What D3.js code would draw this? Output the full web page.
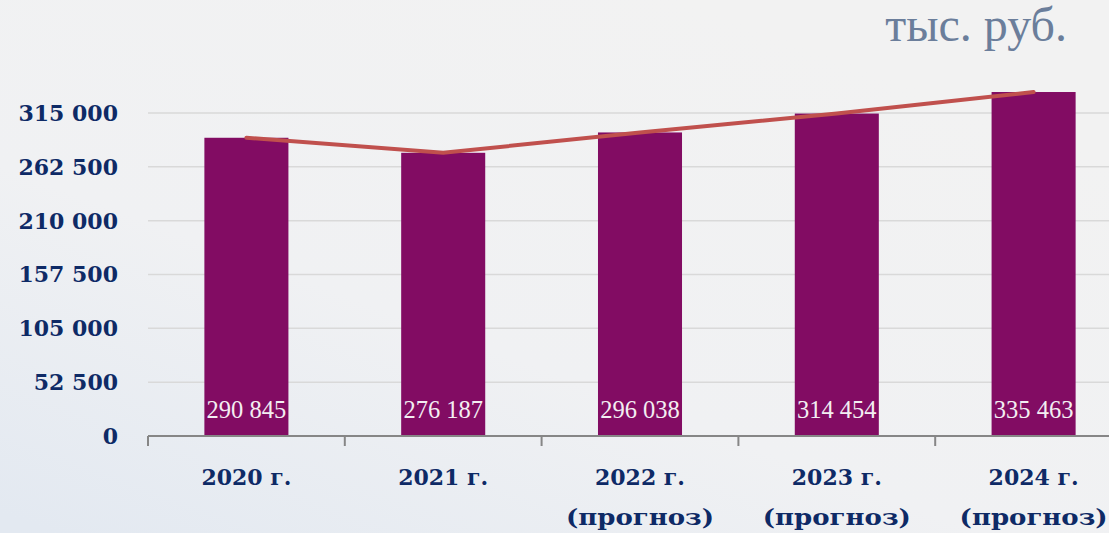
<!DOCTYPE html>
<head>
  <meta charset="utf-8">
  <script src="https://d3js.org/d3.v7.min.js"></script>
  <style>
    body { margin:0;position:fixed;top:0;right:0;bottom:0;left:0; }
  </style>
</head>

<body>
  <script>

    var width = 1109,
        height = 533;

    var years = ["2020 г.", "2021 г.", "2022 г.", "2023 г.", "2024 г."];
    var notes = ["", "", "(прогноз)", "(прогноз)", "(прогноз)"];
    var values = [290845, 276187, 296038, 314454, 335463];
    var yTicks = [0, 52500, 105000, 157500, 210000, 262500, 315000];

    var svg = d3.select("body").append("svg")
      .attr("width", width)
      .attr("height", height);

    var defs = svg.append("defs");
    var grad = defs.append("linearGradient").attr("id", "bg")
      .attr("x1", "0.75").attr("y1", "0.1").attr("x2", "0.05").attr("y2", "1");
    grad.append("stop").attr("offset", "0").attr("stop-color", "#f2f2f2");
    grad.append("stop").attr("offset", "0.55").attr("stop-color", "#f0f1f3");
    grad.append("stop").attr("offset", "1").attr("stop-color", "#e3e9f1");

    svg.append("rect").attr("width", width).attr("height", height).attr("fill", "url(#bg)");

    var x = d3.scaleBand()
        .domain(years)
        .range([148, 148 + 5 * 196.8])
        .paddingInner(0.573)
        .paddingOuter(0.2865);

    var y = d3.scaleLinear()
        .domain([0, 315000])
        .range([436, 113]);

    var fmt = function(d) { return d3.format(",")(d).replace(/,/g, " "); };

    // gridlines
    svg.selectAll("line.grid").data(yTicks.slice(1)).enter()
      .append("line")
      .attr("class", "grid")
      .attr("x1", 148).attr("x2", width)
      .attr("y1", function(d) { return y(d); })
      .attr("y2", function(d) { return y(d); })
      .attr("stroke", "#d9d9d9")
      .attr("stroke-width", 1.5);

    // y labels
    svg.selectAll("text.ylab").data(yTicks).enter()
      .append("text")
      .attr("class", "ylab")
      .attr("x", 118)
      .attr("y", function(d) { return y(d); })
      .attr("dy", "0.36em")
      .attr("text-anchor", "end")
      .attr("font-family", "DejaVu Serif")
      .attr("font-weight", "bold")
      .attr("font-size", 22)
      .attr("fill", "#0e2a66")
      .text(fmt);

    // bars
    svg.selectAll("rect.bar").data(values).enter()
      .append("rect")
      .attr("class", "bar")
      .attr("x", function(d, i) { return x(years[i]); })
      .attr("y", function(d) { return y(d); })
      .attr("width", x.bandwidth())
      .attr("height", function(d) { return y(0) - y(d); })
      .attr("fill", "#820c63");

    // bar value labels
    svg.selectAll("text.val").data(values).enter()
      .append("text")
      .attr("class", "val")
      .attr("x", function(d, i) { return x(years[i]) + x.bandwidth() / 2; })
      .attr("y", 418)
      .attr("text-anchor", "middle")
      .attr("font-family", "Liberation Serif")
      .attr("font-size", 24.5)
      .attr("fill", "#f3eef2")
      .text(fmt);

    // line
    var line = d3.line()
      .x(function(d, i) { return x(years[i]) + x.bandwidth() / 2; })
      .y(function(d) { return y(d); });

    svg.append("path")
      .datum(values)
      .attr("d", line)
      .attr("fill", "none")
      .attr("stroke", "#c0504d")
      .attr("stroke-width", 4)
      .attr("stroke-linecap", "round");

    // x axis
    var step = x.step();
    svg.append("line")
      .attr("x1", 148).attr("x2", width)
      .attr("y1", 436).attr("y2", 436)
      .attr("stroke", "#868686")
      .attr("stroke-width", 2);

    svg.selectAll("line.tick").data(d3.range(years.length + 1)).enter()
      .append("line")
      .attr("class", "tick")
      .attr("x1", function(i) { return 148 + i * step; })
      .attr("x2", function(i) { return 148 + i * step; })
      .attr("y1", 436).attr("y2", 446)
      .attr("stroke", "#868686")
      .attr("stroke-width", 2);

    var xl = svg.selectAll("text.xlab").data(years).enter()
      .append("text")
      .attr("class", "xlab")
      .attr("text-anchor", "middle")
      .attr("font-family", "DejaVu Serif")
      .attr("font-weight", "bold")
      .attr("font-size", 22)
      .attr("fill", "#0e2a66");

    xl.append("tspan")
      .attr("x", function(d) { return x(d) + x.bandwidth() / 2; })
      .attr("y", 485)
      .text(function(d) { return d; });

    xl.filter(function(d, i) { return notes[i] !== ""; })
      .append("tspan")
      .attr("x", function(d) { return x(d) + x.bandwidth() / 2 - 74; })
      .attr("text-anchor", "start")
      .attr("y", 525)
      .attr("textLength", 148)
      .attr("lengthAdjust", "spacingAndGlyphs")
      .text(function(d) { return notes[years.indexOf(d)]; });

    // units
    svg.append("text")
      .attr("x", 1067)
      .attr("y", 41)
      .attr("text-anchor", "end")
      .attr("font-family", "Liberation Serif")
      .attr("font-size", 48)
      .attr("fill", "#6b7e9b")
      .text("тыс. руб.");

  </script>
</body>
